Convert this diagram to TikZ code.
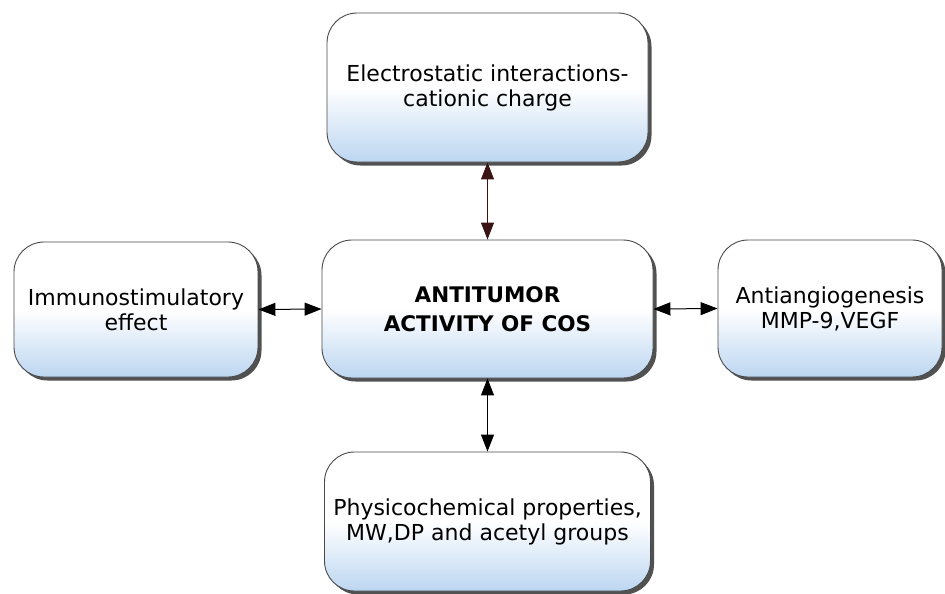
\documentclass[tikz,border=0pt]{standalone}
\usepackage{fontspec}
\setmainfont{DejaVu Sans}
\usetikzlibrary{shadows,arrows.meta}
\definecolor{boxblue}{HTML}{BCD6F1}
\definecolor{edgegray}{HTML}{4A4A4A}
\definecolor{darkred}{HTML}{3A1414}
\tikzset{
  infobox/.style={rectangle, rounded corners=30pt, draw=edgegray, line width=0.9pt,
    top color=white, bottom color=boxblue, middle color=white,
    drop shadow={shadow xshift=3.5pt, shadow yshift=-3.5pt, fill=black!80, opacity=0.85},
    align=center, inner sep=0pt,
    font=\fontsize{22}{25}\selectfont},
  mainbox/.style={infobox, font=\fontsize{21.5}{29}\selectfont\bfseries},
  link/.style={line width=1pt, {Triangle[length=17pt,width=13pt]}-{Triangle[length=17pt,width=13pt]}}
}
\begin{document}
\begin{tikzpicture}[x=1pt,y=-1pt]
\useasboundingbox (0,0) rectangle (945,594);
\node[infobox, minimum width=321pt, minimum height=149pt] (top) at (487.5,87.5)
  {Electrostatic interactions-\\cationic charge};
\node[infobox, minimum width=244pt, minimum height=135pt] (left) at (136,309.5)
  {Immunostimulatory\\effect};
\node[mainbox, minimum width=331pt, minimum height=138pt] (center) at (487.5,309)
  {ANTITUMOR\\ACTIVITY OF COS};
\node[infobox, minimum width=224pt, minimum height=137pt] (right) at (830,308.5)
  {Antiangiogenesis\\MMP-9,VEGF};
\node[infobox, minimum width=326pt, minimum height=139pt] (bottom) at (487.5,521.5)
  {Physicochemical properties,\\MW,DP and acetyl groups};
\draw[link, draw=darkred] (top.south) -- (center.north);
\draw[link] (left.east) -- (center.west);
\draw[link] (center.east) -- (right.west);
\draw[link] (center.south) -- (bottom.north);
\end{tikzpicture}
\end{document}
